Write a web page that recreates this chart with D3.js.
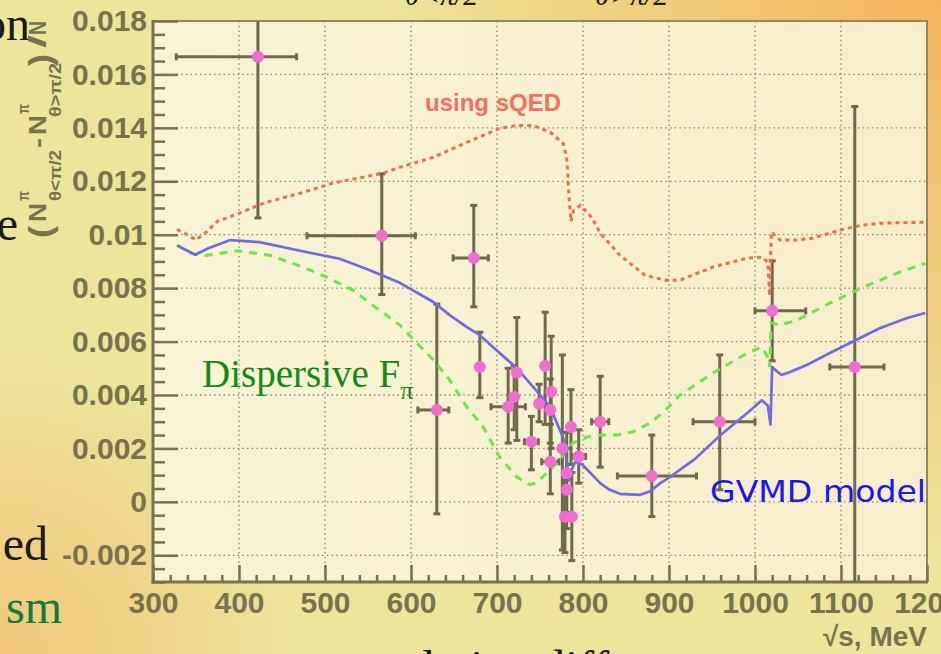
<!DOCTYPE html>
<html><head><meta charset="utf-8">
<script src="https://cdn.jsdelivr.net/npm/d3@7"></script>
<style>html,body{margin:0;padding:0;overflow:hidden;background:#ece59b}svg{display:block}</style>
</head><body><svg id="c" width="941" height="654"></svg>
<script>
// ---------------- data ----------------
const xTickValues = [300,400,500,600,700,800,900,1000,1100,1200];
const xTickLabels = ["300","400","500","600","700","800","900","1000","1100","1200"];
const yTickValues = [-0.002,0,0.002,0.004,0.006,0.008,0.01,0.012,0.014,0.016,0.018];
const yTickLabels = ["-0.002","0","0.002","0.004","0.006","0.008","0.01","0.012","0.014","0.016","0.018"];

// data points (sqrt(s) MeV, asymmetry) with error bounds
const ptE   = [422,566,673,630,680,723,720,713,756,763,749,762,740,762,786,776,795,781,781,779,787,820,880,959,1020,1116];
const ptV   = [0.01666,0.00996,0.00913,0.00344,0.00505,0.00483,0.00393,0.00356,0.00509,0.00412,0.00367,0.00344,0.00225,0.0015,0.0028,0.002,0.0017,0.00108,0.00045,-0.00056,-0.00056,0.003,0.00097,0.003,0.00715,0.00505];
const ptXlo = [327,479,649,608,680,723,720,693,756,763,749,762,732,752,786,776,787,781,781,779,787,810,840,928,1000,1087];
const ptXhi = [467,605,690,644,680,723,720,733,756,763,749,762,748,772,786,776,803,781,781,779,787,830,932,1000,1059,1150];
const ptYlo = [0.01063,0.00776,0.0073,-0.00045,0.0039,0.0023,0.0027,0.0022,0.0029,0.002,0.003,0.0022,0.0012,0.0003,0.0014,-0.0018,0.0007,-0.0004,-0.001,-0.0019,-0.0022,0.0013,-0.00055,0.00045,0.00528,-0.0048];
const ptYhi = [0.0227,0.01228,0.0111,0.0074,0.00635,0.0069,0.0051,0.005,0.0071,0.0062,0.0044,0.0046,0.0032,0.0029,0.0042,0.0055,0.0027,0.0026,0.002,0.0008,0.0011,0.0047,0.0025,0.0055,0.00902,0.0148];

// sQED curve (red dotted)
const sqedE = [328,340,350,362,375,400,430,471,509,567,587,626,665,703,723,742,762,777,781,783,784,786,789,797,810,820,843,872,895,913,951,991,1008,1015,1017,1019,1029,1049,1067,1087,1107,1126,1145,1198];
const sqedV = [0.0102,0.0100,0.0098,0.0101,0.0105,0.0108,0.0112,0.01155,0.01193,0.0123,0.01252,0.0129,0.01346,0.01398,0.01409,0.01409,0.01383,0.01342,0.0129,0.0119,0.0113,0.0105,0.0109,0.0111,0.01065,0.01006,0.00923,0.00849,0.0083,0.0083,0.00879,0.00912,0.00916,0.00897,0.0077,0.0101,0.0098,0.0098,0.00987,0.01006,0.01024,0.01036,0.01043,0.01047];

// GVMD model (blue solid)
const gvmdE = [328,340,349,365,390,424,471,517,550,587,626,645,665,680,703,723,742,762,773,777,781,784,787,791,799,805,820,831,843,866,878,890,901,930,960,990,1008,1015,1018,1020,1025,1031,1041,1060,1087,1114,1145,1177,1198];
const gvmdV = [0.0096,0.0094,0.00925,0.0095,0.0098,0.00972,0.0094,0.0091,0.0087,0.0082,0.00748,0.00699,0.00654,0.00624,0.00557,0.00501,0.0043,0.00355,0.00269,0.0024,0.0015,0.0008,0.0012,0.0015,0.0014,0.0012,0.0007,0.00045,0.0003,0.00026,0.0004,0.0007,0.00093,0.0016,0.0025,0.0033,0.0038,0.0036,0.0029,0.00505,0.0049,0.00475,0.00486,0.00512,0.00557,0.006,0.0065,0.00688,0.00707];

// Dispersive F_pi (green dashed)
const dispE = [328,345,358,398,436,474,502,533,552,587,607,626,645,665,684,703,723,738,745,758,773,788,805,820,840,858,878,895,913,951,991,1008,1015,1017,1019,1029,1049,1087,1126,1165,1198];
const dispV = [0.0096,0.0093,0.0092,0.0094,0.00923,0.00879,0.00841,0.00792,0.00744,0.00662,0.00594,0.00531,0.00456,0.00355,0.0028,0.00168,0.00093,0.00064,0.0007,0.00108,0.00157,0.0022,0.00243,0.0025,0.0025,0.00262,0.00295,0.0034,0.0040,0.00482,0.00557,0.0058,0.0054,0.00505,0.0067,0.00662,0.0068,0.00744,0.00804,0.00856,0.00893];

// ---------------- drawing ----------------
const svg = d3.select("#c");
const W = 941, H = 654;
const L = 153, R = 927, T = 21, B = 582;
const axisCol = "#77734f";
const x = d3.scaleLinear().domain([300,1200]).range([L,R]);
const y = d3.scaleLinear().domain([-0.003,0.018]).range([B,T]);

const defs = svg.append("defs");
const o1 = defs.append("radialGradient").attr("id","o1").attr("gradientUnits","userSpaceOnUse")
  .attr("cx",941).attr("cy",0).attr("r",560);
o1.append("stop").attr("offset","0%").attr("stop-color","#f5b45c").attr("stop-opacity",1);
o1.append("stop").attr("offset","100%").attr("stop-color","#f5b45c").attr("stop-opacity",0);
const o2 = defs.append("radialGradient").attr("id","o2").attr("gradientUnits","userSpaceOnUse")
  .attr("cx",0).attr("cy",654).attr("r",300);
o2.append("stop").attr("offset","0%").attr("stop-color","#f2c479").attr("stop-opacity",0.95);
o2.append("stop").attr("offset","100%").attr("stop-color","#f2c479").attr("stop-opacity",0);
const pg = defs.append("linearGradient").attr("id","pg").attr("x1","0").attr("x2","1").attr("y1","0").attr("y2","0");
pg.append("stop").attr("offset","0%").attr("stop-color","#f8f4d6");
pg.append("stop").attr("offset","100%").attr("stop-color","#f8edcb");
defs.append("clipPath").attr("id","clip").append("rect")
  .attr("x",L).attr("y",T).attr("width",R-L).attr("height",B-T);

svg.append("rect").attr("width",W).attr("height",H).attr("fill","#ece59b");
svg.append("rect").attr("width",W).attr("height",H).attr("fill","url(#o1)");
svg.append("rect").attr("width",W).attr("height",H).attr("fill","url(#o2)");

// slide text fragments
const serif = "'Liberation Serif','Times New Roman',serif";
const slide = svg.append("g").attr("font-family",serif).attr("font-size",48);
slide.append("text").attr("x",30).attr("y",40).attr("text-anchor","end").attr("fill","#1a1a1a").text("on");
slide.append("text").attr("x",18).attr("y",240).attr("text-anchor","end").attr("fill","#1a1a1a").text("e");
slide.append("text").attr("x",48).attr("y",560).attr("text-anchor","end").attr("fill","#1a1a1a").text("ed");
slide.append("text").attr("x",62).attr("y",623).attr("text-anchor","end").attr("fill","#0d7d3d").text("sm");
slide.append("text").attr("x",385).attr("y",684).attr("fill","#1a1a1a").text("relative difference");
slide.append("text").attr("x",405).attr("y",5).attr("font-size",30).attr("font-style","italic").attr("fill","#1a1a1a").text("θ<π/2");
slide.append("text").attr("x",595).attr("y",5).attr("font-size",30).attr("font-style","italic").attr("fill","#1a1a1a").text("θ>π/2");

// plot area
svg.append("rect").attr("x",L).attr("y",T).attr("width",R-L).attr("height",B-T)
  .attr("fill","url(#pg)").attr("stroke","#8d8764").attr("stroke-width",2);

// grid
const xGrid = [400,500,600,700,800,900,1000,1100];
const yGrid = [-0.002,0,0.002,0.004,0.006,0.008,0.01,0.012,0.014,0.016];
const grid = svg.append("g").attr("stroke","#8a8670").attr("stroke-width",1.3).attr("stroke-dasharray","1.5,3.2");
grid.selectAll(".gx").data(xGrid).join("line").attr("x1",d=>x(d)).attr("x2",d=>x(d)).attr("y1",T).attr("y2",B);
grid.selectAll(".gy").data(yGrid).join("line").attr("y1",d=>y(d)).attr("y2",d=>y(d)).attr("x1",L).attr("x2",R);

// axes
const fontSans = "'Liberation Sans',Arial,Helvetica,sans-serif";
function styleAxis(g){
  g.select(".domain").remove();
  g.selectAll("line").attr("stroke",axisCol).attr("stroke-width",2.5);
  g.selectAll("text").attr("fill",axisCol).attr("font-family",fontSans).attr("font-weight","bold").attr("font-size",30);
}
const xMinor = d3.range(300,1201,20).filter(v=>v%100!==0);
const yMinor = d3.range(-30,181,5).filter(v=>v%20!==0).map(v=>v/10000);
svg.append("g").attr("transform",`translate(0,${B})`)
  .call(d3.axisBottom(x).tickValues(xMinor).tickSize(-7).tickFormat("")).call(styleAxis);
svg.append("g").attr("transform",`translate(0,${B})`)
  .call(d3.axisBottom(x).tickValues(xTickValues).tickSize(-17).tickPadding(10).tickFormat((d,i)=>xTickLabels[i])).call(styleAxis);
svg.append("g").attr("transform",`translate(${L},0)`)
  .call(d3.axisLeft(y).tickValues(yMinor).tickSize(-12).tickFormat("")).call(styleAxis);
svg.append("g").attr("transform",`translate(${L},0)`)
  .call(d3.axisLeft(y).tickValues(yTickValues).tickSize(-25).tickPadding(6).tickFormat((d,i)=>yTickLabels[i])).call(styleAxis);
svg.append("line").attr("x1",L).attr("x2",L).attr("y1",T-1).attr("y2",B+1.5).attr("stroke",axisCol).attr("stroke-width",3);
svg.append("line").attr("x1",L-1.5).attr("x2",R+1).attr("y1",B).attr("y2",B).attr("stroke",axisCol).attr("stroke-width",3);

// axis titles
svg.append("text").attr("x",927).attr("y",646).attr("text-anchor","end")
  .attr("font-family",fontSans).attr("font-weight","bold").attr("font-size",28).attr("fill",axisCol)
  .text("√s, MeV");
const ytPieces = [
  {t:"(",  px:51, py:238, s:32, len:12},
  {t:"N",  px:46, py:222, s:23, len:19},
  {t:"π",  px:29, py:201, s:16, len:10},
  {t:"θ<π/2", px:61, py:201, s:16, len:51},
  {t:"-",  px:46, py:148, s:23, len:10},
  {t:"N",  px:46, py:135, s:23, len:20},
  {t:"π",  px:29, py:114, s:16, len:10},
  {t:"θ>π/2", px:61, py:117, s:16, len:54},
  {t:")",  px:51, py:66, s:32, len:12},
  {t:"/",  px:46, py:48, s:23, len:13},
  {t:"N",  px:46, py:35, s:23, len:14}
];
svg.append("g").selectAll("text").data(ytPieces).join("text")
  .attr("transform",d=>`translate(${d.px},${d.py}) rotate(-90)`)
  .attr("font-family",fontSans).attr("font-weight","bold").attr("fill",axisCol)
  .attr("font-size",d=>d.s).attr("textLength",d=>d.len).attr("lengthAdjust","spacingAndGlyphs")
  .text(d=>d.t);

// plotted content
const plot = svg.append("g").attr("clip-path","url(#clip)");
const line = d3.line().x(d=>x(d[0])).y(d=>y(d[1]));

// error bars
const pts = ptE.map((e,i)=>({e, v:ptV[i], xl:ptXlo[i], xh:ptXhi[i], yl:ptYlo[i], yh:ptYhi[i]}));
const eb = plot.append("g").attr("stroke","#6e6a4c").attr("stroke-width",3).attr("fill","none");
const cap = 3.5;
pts.forEach(p=>{
  eb.append("line").attr("x1",x(p.e)).attr("x2",x(p.e)).attr("y1",y(p.yl)).attr("y2",y(p.yh));
  eb.append("line").attr("x1",x(p.e)-cap).attr("x2",x(p.e)+cap).attr("y1",y(p.yl)).attr("y2",y(p.yl));
  eb.append("line").attr("x1",x(p.e)-cap).attr("x2",x(p.e)+cap).attr("y1",y(p.yh)).attr("y2",y(p.yh));
  if (p.xh > p.xl) {
    eb.append("line").attr("x1",x(p.xl)).attr("x2",x(p.xh)).attr("y1",y(p.v)).attr("y2",y(p.v));
    eb.append("line").attr("x1",x(p.xl)).attr("x2",x(p.xl)).attr("y1",y(p.v)-cap).attr("y2",y(p.v)+cap);
    eb.append("line").attr("x1",x(p.xh)).attr("x2",x(p.xh)).attr("y1",y(p.v)-cap).attr("y2",y(p.v)+cap);
  }
});

// curves
plot.append("path").datum(sqedE.map((e,i)=>[e,sqedV[i]])).attr("d",line)
  .attr("fill","none").attr("stroke","#f46c4e").attr("stroke-width",3).attr("stroke-dasharray","4,4");
plot.append("path").datum(dispE.map((e,i)=>[e,dispV[i]])).attr("d",line)
  .attr("fill","none").attr("stroke","#6ae848").attr("stroke-width",3).attr("stroke-dasharray","8,7");
plot.append("path").datum(gvmdE.map((e,i)=>[e,gvmdV[i]])).attr("d",line)
  .attr("fill","none").attr("stroke","#6d6de0").attr("stroke-width",2.7).attr("stroke-linejoin","round");

// markers
plot.append("g").selectAll("circle").data(pts).join("circle")
  .attr("cx",d=>x(d.e)).attr("cy",d=>y(d.v)).attr("r",6).attr("fill","#f06ccf");

// labels
svg.append("text").attr("x",425).attr("y",111).attr("font-family",fontSans).attr("font-weight","bold")
  .attr("font-size",24).attr("fill","#f4705a").text("using sQED");
const dt = svg.append("text").attr("x",202).attr("y",387).attr("font-family",serif)
  .attr("font-size",39).attr("fill","#128a14");
dt.append("tspan").text("Dispersive F");
dt.append("tspan").attr("font-size",26).attr("dy",12).text("π");
svg.append("text").attr("x",710).attr("y",502).attr("font-family","'DejaVu Sans',Verdana,sans-serif")
  .attr("font-size",31).attr("fill","#1818ee").attr("textLength",216).attr("lengthAdjust","spacingAndGlyphs")
  .text("GVMD model");
</script>
</body></html>
